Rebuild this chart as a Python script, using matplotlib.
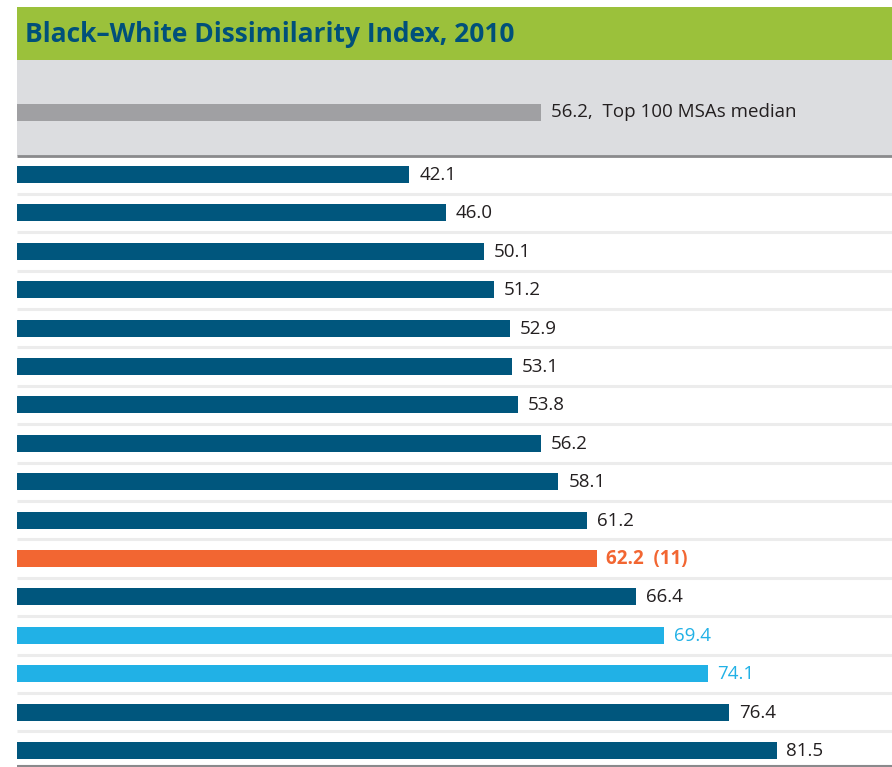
import matplotlib.pyplot as plt
from matplotlib.patches import Rectangle

plt.rcParams['font.family'] = ['Open Sans', 'DejaVu Sans']

# values for each metro bar, top to bottom
values = [42.1, 46.0, 50.1, 51.2, 52.9, 53.1, 53.8, 56.2,
          58.1, 61.2, 62.2, 66.4, 69.4, 74.1, 76.4, 81.5]
highlight = 10           # orange bar, rank shown in brackets
highlight_rank = 11
light_rows = [12, 13]    # light blue bars
median_value = 56.2
median_label = "Top 100 MSAs median"
title = "Black\u2013White Dissimilarity Index, 2010"

DARK = "#00567d"
ORANGE = "#f26632"
LIGHT = "#21b1e6"
GREEN = "#9bc13b"
BAND = "#dcdde0"
MEDIAN_GRAY = "#a0a0a3"
TEXT = "#231f20"

W, H = 892, 767
LEFT = 17
SCALE = 9.32             # pixels per index point

fig = plt.figure(figsize=(W / 100, H / 100), dpi=100)
ax = fig.add_axes([0, 0, 1, 1])
ax.set_xlim(-LEFT / SCALE, (W - LEFT) / SCALE)
ax.set_ylim(H, 0)
ax.axis('off')

x1 = (W - LEFT) / SCALE

# title band and grey median band
ax.add_patch(Rectangle((0, 7), x1, 53, color=GREEN, lw=0, zorder=0))
ax.text(8 / SCALE, 34, title, color="#00507a", fontsize=19,
        fontweight='bold', va='center', ha='left')
ax.add_patch(Rectangle((0, 60), x1, 96, color=BAND, lw=0, zorder=0))
ax.plot([0, x1], [156, 156], color="#8a8a8c", lw=2, solid_capstyle='butt')

ax.barh(112.5, median_value, height=17, color=MEDIAN_GRAY, zorder=2)
ax.text(median_value + 1.05, 112, f"{median_value:.1f},  {median_label}",
        color=TEXT, fontsize=13.5, va='center', ha='left')

# metro bars
y0, step = 174.5, 38.4
ys = [y0 + i * step for i in range(len(values))]
for i, (y, v) in enumerate(zip(ys, values)):
    if i == highlight:
        c, tc, label, weight = ORANGE, ORANGE, f"{v:.1f}  ({highlight_rank})", 'bold'
    elif i in light_rows:
        c, tc, label, weight = LIGHT, LIGHT, f"{v:.1f}", 'normal'
    else:
        c, tc, label, weight = DARK, TEXT, f"{v:.1f}", 'normal'
    ax.barh(y, v, height=17, color=c, zorder=2)
    ax.text(v + 1.05, y + 0.5, label, color=tc, fontsize=13.5,
            fontweight=weight, va='center', ha='left')

# light separators between rows, darker rule at the bottom
for a, b in zip(ys[:-1], ys[1:]):
    ax.plot([0, x1], [(a + b) / 2] * 2, color="#ececec", lw=2.2,
            solid_capstyle='butt', zorder=1)
ax.plot([0, x1], [766, 766], color="#8a8a8c", lw=1.5, solid_capstyle='butt')

fig.savefig("out.png", dpi=100)
